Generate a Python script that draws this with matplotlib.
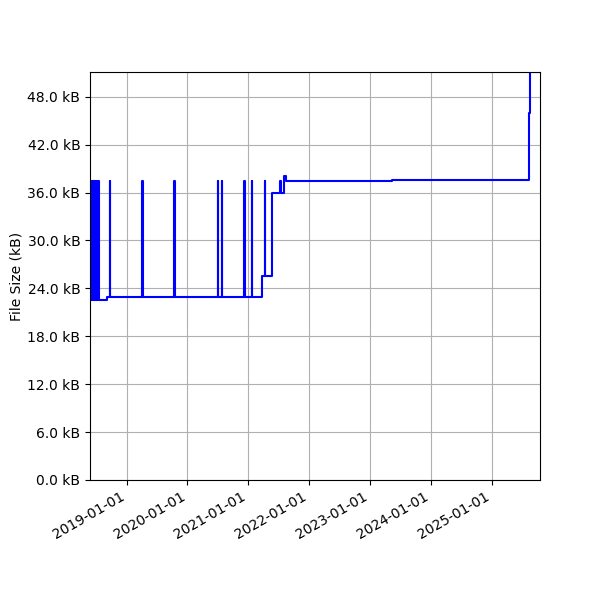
import pandas as pd
import matplotlib
matplotlib.use("Agg")
import matplotlib.pyplot as plt
import matplotlib.dates as mdates
from matplotlib.ticker import FuncFormatter

# commit dates and file sizes (kB)
dates = [
    "2018-05-26", "2018-05-29", "2018-06-01", "2018-06-04", "2018-06-08",
    "2018-06-11", "2018-06-15", "2018-06-18", "2018-06-22", "2018-06-25",
    "2018-06-29", "2018-07-02", "2018-07-06", "2018-07-09", "2018-07-13",
    "2018-07-17", "2018-09-08", "2018-09-22", "2018-09-24", "2019-04-05",
    "2019-04-07", "2019-10-14", "2019-10-16", "2020-07-01", "2020-07-03",
    "2020-07-27", "2020-07-29", "2020-12-08", "2020-12-10", "2021-01-24",
    "2021-01-26", "2021-03-22", "2021-04-11", "2021-04-13", "2021-05-22",
    "2021-07-13", "2021-07-15", "2021-08-06", "2021-08-14", "2023-05-17",
    "2025-08-14", "2025-08-17", "2025-10-19",
]
sizes_kb = [
    37.5, 22.5, 37.5, 22.5, 37.5,
    22.5, 37.5, 22.5, 37.5, 22.5,
    37.5, 22.5, 37.5, 22.5, 37.5,
    22.5, 22.9, 37.5, 22.9, 37.5,
    22.9, 37.5, 22.9, 37.5, 22.9,
    37.5, 22.9, 37.5, 22.9, 37.5,
    22.9, 25.5, 37.5, 25.5, 36.0,
    37.5, 36.0, 38.1, 37.47, 37.6,
    46.0, 51.1, 51.1,
]
y_ticks = [0, 6, 12, 18, 24, 30, 36, 42, 48]

df = pd.DataFrame({"date": pd.to_datetime(dates), "size": sizes_kb})

fig, ax = plt.subplots(figsize=(6, 6), dpi=100)
ax.step(df["date"], df["size"], where="post", color="blue", linewidth=1.5)

ax.set_xlim(df["date"].iloc[0], df["date"].iloc[-1])
ax.set_ylim(0, max(sizes_kb))
ax.set_yticks(y_ticks)
ax.yaxis.set_major_formatter(FuncFormatter(lambda v, pos: f"{v:.1f} kB"))
ax.xaxis.set_major_locator(mdates.YearLocator())
ax.xaxis.set_major_formatter(mdates.DateFormatter("%Y-%m-%d"))
ax.set_ylabel("File Size (kB)", labelpad=2.5)
ax.grid(True)

fig.autofmt_xdate()
fig.subplots_adjust(left=0.15, right=0.9, top=0.88, bottom=0.2)
fig.savefig("out.png", dpi=100)
